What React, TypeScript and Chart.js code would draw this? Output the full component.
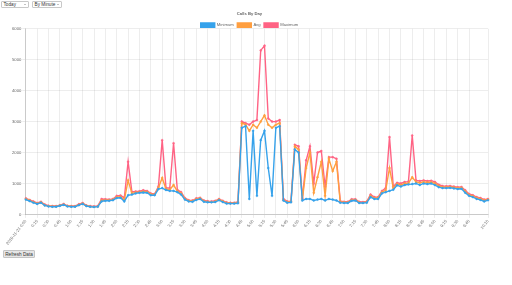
import { useEffect, useRef } from 'react';
import { Chart, registerables } from 'chart.js';

Chart.register(...registerables);

// Time axis: one sample every STEP_MIN minutes from START_MIN, labelled every LABEL_EVERY samples
const DAY = '2019-11-21';
const START_MIN = 0;
const STEP_MIN = 5;
const LABEL_EVERY = 3;

const minimum = [
  480, 430, 380, 340, 380, 290, 260, 250, 250, 280,
  310, 260, 250, 250, 300, 340, 270, 250, 240, 250,
  420, 440, 440, 460, 530, 540, 420, 620, 640, 680,
  700, 710, 700, 620, 620, 820, 850, 790, 760, 760,
  720, 640, 480, 420, 410, 470, 500, 410, 390, 390,
  400, 460, 400, 350, 350, 350, 360, 2800, 2850, 500,
  2700, 600, 2400, 2700, 1500, 600, 2800, 2850, 450, 380,
  390, 2100, 2000, 450, 500, 500, 450, 480, 500, 450,
  500, 480, 450, 380, 370, 370, 440, 450, 370, 370,
  380, 560, 500, 500, 680, 720, 760, 800, 940, 900,
  950, 970, 980, 1000, 950, 1000, 980, 1000, 950, 880,
  850, 850, 860, 840, 820, 830, 700, 600, 560, 500,
  470, 420, 460,
];

const average = [
  500, 450, 400, 350, 390, 300, 270, 260, 260, 290,
  320, 270, 260, 260, 310, 350, 280, 260, 250, 260,
  450, 460, 460, 480, 560, 570, 470, 1100, 680, 710,
  720, 740, 730, 650, 640, 860, 1180, 820, 800, 950,
  750, 680, 500, 440, 430, 490, 520, 430, 410, 400,
  420, 480, 420, 370, 360, 360, 380, 2950, 2900, 2700,
  2900, 2800, 3000, 3200, 2900, 2800, 2900, 2950, 470, 400,
  410, 2200, 2100, 480, 1500, 2000, 700, 1200, 1700, 600,
  1800, 1400, 1700, 400, 390, 390, 460, 470, 390, 380,
  400, 600, 530, 530, 720, 780, 1500, 850, 980, 950,
  1000, 1010, 1200, 1050, 1020, 1050, 1030, 1040, 1000, 920,
  880, 880, 890, 870, 850, 860, 740, 630, 590, 530,
  500, 450, 480,
];

const maximum = [
  520, 470, 420, 370, 410, 320, 280, 270, 270, 300,
  340, 280, 270, 270, 330, 370, 290, 270, 260, 270,
  500, 490, 480, 500, 600, 610, 540, 1700, 730, 740,
  750, 780, 760, 680, 660, 900, 2400, 860, 850, 2300,
  790, 720, 530, 460, 450, 520, 540, 450, 430, 420,
  440, 500, 440, 390, 380, 380, 400, 3000, 2950, 2900,
  3000, 3050, 5300, 5450, 3100, 3000, 3000, 3050, 500, 420,
  430, 2250, 2200, 520, 1750, 2200, 1000, 2000, 2050, 900,
  1850, 1850, 1800, 430, 410, 410, 490, 490, 410, 400,
  420, 640, 560, 560, 760, 850, 2500, 900, 1020, 1000,
  1050, 1060, 2550, 1100, 1080, 1100, 1080, 1090, 1050, 960,
  920, 910, 920, 900, 880, 890, 780, 660, 620, 560,
  530, 480, 500,
];

const yTicks = [0, 1000, 2000, 3000, 4000, 5000, 6000];

const labels: string[] = minimum.map((_, i) => {
  const t = START_MIN + i * STEP_MIN;
  const hm = `${Math.floor(t / 60)}:${String(t % 60).padStart(2, '0')}`;
  return i === 0 ? `${DAY} ${hm}` : hm;
});

const N = labels.length;
// every LABEL_EVERY-th label plus the final one (dropping a crowded neighbour)
const shown = (i: number) => i === N - 1 || (i % LABEL_EVERY === 0 && i + LABEL_EVERY < N);

const BLUE = 'rgb(54, 162, 235)';
const ORANGE = 'rgb(255, 159, 64)';
const RED = 'rgb(255, 99, 132)';
const FONT = "Arial, 'Liberation Sans', Helvetica, sans-serif";
const FS = 4.2;
const LEGEND_TRIM = 8.5;

// The legend reserves a fixed 10px below its row; trim most of it so the plot sits closer.
const legendTrim = {
  id: 'legendTrim',
  beforeLayout(chart: any) {
    const lg = chart.legend;
    if (lg && !lg.__trimmed) {
      const fit = lg.fit.bind(lg);
      lg.fit = () => {
        fit();
        lg.height = Math.max(0, lg.height - LEGEND_TRIM);
      };
      lg.__trimmed = true;
    }
  },
};

function series(label: string, data: number[], color: string) {
  return {
    label,
    data,
    borderColor: color,
    backgroundColor: color,
    pointBackgroundColor: color,
    pointBorderColor: color,
    borderWidth: 1.4,
    pointRadius: 1,
    pointBorderWidth: 0.4,
    tension: 0,
    fill: false,
  };
}

function Dropdown({ left, width, text }: { left: number; width: number; text: string }) {
  return (
    <div
      style={{
        position: 'absolute',
        left,
        top: 1,
        width,
        height: 7,
        boxSizing: 'border-box',
        border: '1px solid #c8c8c8',
        borderRadius: 1,
        background: '#fff',
        fontFamily: FONT,
        fontSize: 4.7,
        lineHeight: '5px',
        color: '#333',
        paddingLeft: 1.5,
        whiteSpace: 'nowrap',
        overflow: 'hidden',
      }}
    >
      {text}
      <span
        style={{
          position: 'absolute',
          right: 2,
          top: 2,
          width: 0,
          height: 0,
          borderLeft: '1.2px solid transparent',
          borderRight: '1.2px solid transparent',
          borderTop: '1.4px solid #888',
        }}
      />
    </div>
  );
}

export default function App() {
  const ref = useRef<HTMLCanvasElement | null>(null);

  useEffect(() => {
    document.body.style.margin = '0';
    const chart = new Chart(ref.current as HTMLCanvasElement, {
      type: 'line',
      data: {
        labels,
        datasets: [
          series('Minimum', minimum, BLUE),
          series('Avg', average, ORANGE),
          series('Maximum', maximum, RED),
        ],
      },
      plugins: [legendTrim],
      options: {
        responsive: false,
        animation: false,
        layout: { padding: { left: 11, right: 24, top: 0, bottom: 0 } },
        plugins: {
          title: {
            display: true,
            text: 'Calls By Day',
            color: '#666',
            font: { family: FONT, size: FS, weight: 'bold' },
            padding: { top: 4, bottom: 3.5 },
          },
          legend: {
            labels: {
              boxWidth: 14,
              boxHeight: 4.2,
              padding: 3.5,
              color: '#666',
              font: { family: FONT, size: FS },
            },
          },
          tooltip: { enabled: false },
        },
        scales: {
          x: {
            grid: {
              color: (ctx: any) => (shown(ctx.index) ? 'rgba(0,0,0,0.07)' : 'transparent'),
              tickLength: 3.5,
            },
            border: { color: 'rgba(0,0,0,0.15)' },
            ticks: {
              autoSkip: false,
              maxRotation: 52,
              minRotation: 52,
              padding: 1,
              color: '#666',
              font: { family: FONT, size: FS },
              callback: (_v: any, i: number) => (shown(i) ? labels[i] : ''),
            },
          },
          y: {
            min: yTicks[0],
            max: yTicks[yTicks.length - 1],
            grid: { color: 'rgba(0,0,0,0.07)', tickLength: 3.5 },
            border: { color: 'rgba(0,0,0,0.15)' },
            ticks: {
              stepSize: 1000,
              padding: 1,
              color: '#666',
              font: { family: FONT, size: FS },
              callback: (v: any) => String(v),
            },
          },
        },
      },
    });
    return () => chart.destroy();
  }, []);

  return (
    <div style={{ position: 'relative', width: 512, height: 285, background: '#fff' }}>
      <Dropdown left={1} width={28} text="Today" />
      <Dropdown left={32} width={30} text="By Minute" />
      <canvas ref={ref} width={512} height={240} style={{ position: 'absolute', left: 0, top: 7 }} />
      <button
        style={{
          position: 'absolute',
          left: 3,
          top: 250,
          width: 32,
          height: 8,
          padding: 0,
          fontFamily: FONT,
          fontSize: 4.7,
          color: '#333',
          background: '#e6e6e6',
          border: '1px solid #c4c4c4',
          borderRadius: 1,
        }}
      >
        Refresh Data
      </button>
    </div>
  );
}
